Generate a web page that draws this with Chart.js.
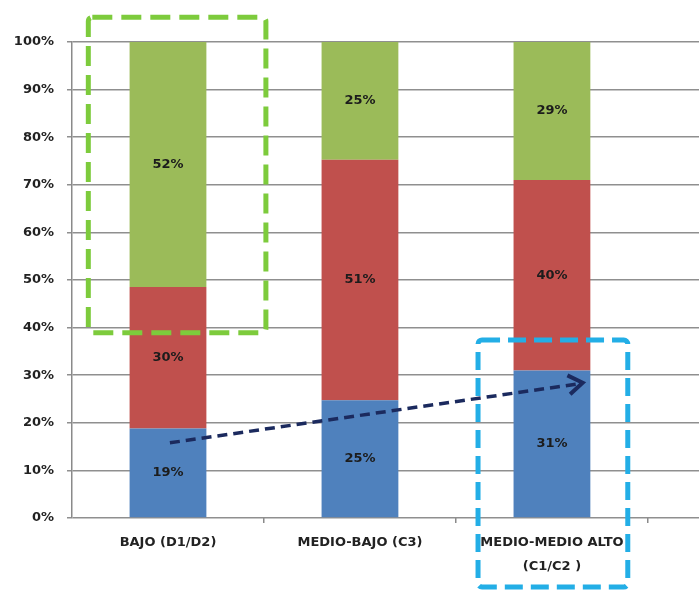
<!DOCTYPE html>
<html>
<head>
<meta charset="utf-8">
<script src="https://cdn.jsdelivr.net/npm/chart.js@4/dist/chart.umd.min.js"></script>
<style>
  html, body { margin: 0; padding: 0; background: #fff; }
  #wrap { width: 699px; height: 592px; position: relative; }
</style>
</head>
<body>
<div id="wrap"><canvas id="chart"></canvas></div>
<script>
// datos
const categorias = ['BAJO (D1/D2)', 'MEDIO-BAJO (C3)', ['MEDIO-MEDIO ALTO', '(C1/C2 )']];
const azul = [19, 25, 31];
const rojo = [30, 51, 40];
const verde = [52, 25, 29];
const yTicks = [0, 10, 20, 30, 40, 50, 60, 70, 80, 90, 100];

// totales para normalizar al 100%
const totales = categorias.map((c, i) => azul[i] + rojo[i] + verde[i]);
const aPuntos = serie => serie.map((v, i) => ({ x: i + 1, y: v / totales[i] * 100 }));

// recuadros y flecha (en unidades de las escalas)
const recuadros = [
    { x0: 0.585, x1: 1.51, y0: 105.2, y1: 38.9, color: '#7dcb3c', dash: [20, 9] },
    { x0: 2.615, x1: 3.395, y0: 37.4, y1: -14.5, color: '#23aee6', dash: [18, 8] }
];
const flecha = { x0: 1.01, y0: 15.8, x1: 3.16, y1: 28.4, color: '#1b2a5e' };

const etiquetasPlugin = {
    id: 'etiquetas',
    afterDatasetsDraw(chart) {
        const ctx = chart.ctx;
        ctx.save();
        ctx.font = 'bold 13px "DejaVu Sans", sans-serif';
        ctx.fillStyle = '#1c1c1c';
        ctx.textAlign = 'center';
        ctx.textBaseline = 'middle';
        chart.data.datasets.forEach((ds, di) => {
            chart.getDatasetMeta(di).data.forEach((el, i) => {
                ctx.fillText(ds.valores[i] + '%', el.x, (el.y + el.base) / 2);
            });
        });
        ctx.restore();
    }
};

const anotacionesPlugin = {
    id: 'anotaciones',
    afterDraw(chart) {
        const ctx = chart.ctx;
        const x = chart.scales.x, y = chart.scales.y;
        ctx.save();
        recuadros.forEach(r => {
            const px0 = x.getPixelForValue(r.x0), px1 = x.getPixelForValue(r.x1);
            const py0 = y.getPixelForValue(r.y0), py1 = y.getPixelForValue(r.y1);
            ctx.strokeStyle = r.color;
            ctx.lineWidth = 5;
            ctx.setLineDash(r.dash);
            ctx.beginPath();
            ctx.roundRect(px0, py0, px1 - px0, py1 - py0, 4);
            ctx.stroke();
        });
        // flecha
        const ax0 = x.getPixelForValue(flecha.x0), ay0 = y.getPixelForValue(flecha.y0);
        const ax1 = x.getPixelForValue(flecha.x1), ay1 = y.getPixelForValue(flecha.y1);
        ctx.strokeStyle = flecha.color;
        ctx.lineWidth = 3.5;
        ctx.setLineDash([10, 6]);
        ctx.beginPath();
        ctx.moveTo(ax0, ay0);
        ctx.lineTo(ax1 - 4, ay1 + 1);
        ctx.stroke();
        const ang = Math.atan2(ay1 - ay0, ax1 - ax0);
        ctx.setLineDash([]);
        ctx.lineWidth = 4;
        ctx.beginPath();
        ctx.moveTo(ax1 - 17 * Math.cos(ang - 0.6), ay1 - 17 * Math.sin(ang - 0.6));
        ctx.lineTo(ax1, ay1);
        ctx.lineTo(ax1 - 17 * Math.cos(ang + 0.6), ay1 - 17 * Math.sin(ang + 0.6));
        ctx.stroke();
        ctx.restore();
    }
};

const fuenteEjes = { family: '"DejaVu Sans", sans-serif', size: 13, weight: 'bold', lineHeight: 1.85 };

new Chart(document.getElementById('chart'), {
    type: 'bar',
    data: {
        datasets: [
            { label: 'azul', data: aPuntos(azul), valores: azul, backgroundColor: '#4f81bd' },
            { label: 'rojo', data: aPuntos(rojo), valores: rojo, backgroundColor: '#c0504d' },
            { label: 'verde', data: aPuntos(verde), valores: verde, backgroundColor: '#9bbb59' }
        ]
    },
    options: {
        responsive: true,
        maintainAspectRatio: false,
        animation: false,
        layout: { padding: { top: 42, left: 0, right: 0, bottom: 0 } },
        datasets: { bar: { barPercentage: 0.4, categoryPercentage: 1.0 } },
        plugins: { legend: { display: false }, tooltip: { enabled: false } },
        scales: {
            x: {
                type: 'linear',
                stacked: true,
                offset: false,
                min: 0.5,
                max: 3.766,
                afterBuildTicks: axis => {
                    axis.ticks = [1, 2, 3].map(v => ({ value: v }));
                },
                display: false
            },
            xl: {
                type: 'linear',
                position: 'bottom',
                offset: false,
                min: 0.5,
                max: 3.766,
                afterBuildTicks: axis => {
                    axis.ticks = [1, 1.5, 2, 2.5, 3, 3.5].map(v => ({ value: v }));
                },
                afterFit: scale => { scale.height = 74; },
                border: { display: false },
                grid: {
                    offset: false,
                    drawOnChartArea: false,
                    tickLength: 5,
                    lineWidth: 1.5,
                    color: c => (c.tick && !Number.isInteger(c.tick.value)) ? '#8a8a8a' : 'rgba(0,0,0,0)'
                },
                ticks: {
                    autoSkip: false,
                    maxRotation: 0,
                    padding: 8,
                    color: '#222',
                    font: fuenteEjes,
                    callback: v => Number.isInteger(v) ? categorias[v - 1] : ''
                }
            },
            y: {
                stacked: true,
                min: 0,
                max: 100,
                afterBuildTicks: axis => {
                    axis.ticks = yTicks.map(v => ({ value: v }));
                },
                afterFit: scale => { scale.width = 72; },
                border: { display: true, color: '#8a8a8a', width: 1.5 },
                grid: { color: '#8f8f8f', lineWidth: 1.5, tickLength: 5 },
                ticks: {
                    padding: 13,
                    color: '#222',
                    font: { family: '"DejaVu Sans", sans-serif', size: 13, weight: 'bold' },
                    callback: v => v + '%'
                }
            }
        }
    },
    plugins: [etiquetasPlugin, anotacionesPlugin]
});
</script>
</body>
</html>
